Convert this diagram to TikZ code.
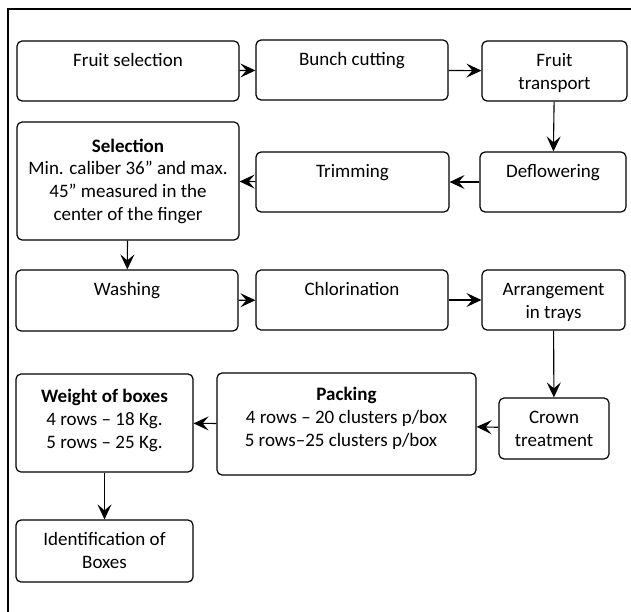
\documentclass[tikz,border=0pt]{standalone}
\usepackage{fontspec}
\setmainfont{Carlito}
\usetikzlibrary{arrows.meta}
\tikzset{
  box/.style={draw, rounded corners=5pt, line width=1.2pt, inner sep=0pt},
  txt/.style={anchor=north, inner sep=0pt, align=center, font=\fontsize{19}{22.8}\selectfont},
  conn/.style={line width=1.1pt, -{Stealth[length=15pt,width=14pt,inset=6pt]}},
  frame/.style={line width=2pt}
}
\begin{document}
\begin{tikzpicture}[x=1pt,y=-1pt]
\useasboundingbox (0,0) rectangle (631,612);
% outer frame (left and top)
\coordinate (fbl) at (8,612);
\coordinate (ftl) at (8,9);
\coordinate (ftr) at (631,9);
\draw[frame] (fbl) -- (ftl) -- (ftr);
% boxes
\node[box, minimum width=222, minimum height=60] (fs) at (128,71) {};
\node[box, minimum width=192, minimum height=60] (bc) at (352,70) {};
\node[box, minimum width=145, minimum height=60] (ft) at (554.5,71) {};
\node[box, minimum width=146, minimum height=60] (df) at (553,182) {};
\node[box, minimum width=193, minimum height=60] (tr) at (352.5,182) {};
\node[box, minimum width=222, minimum height=118] (sel) at (128,181) {};
\node[box, minimum width=222, minimum height=61] (wa) at (127,300.5) {};
\node[box, minimum width=192, minimum height=60] (ch) at (352,300) {};
\node[box, minimum width=143, minimum height=60] (ar) at (553.5,300) {};
\node[box, minimum width=110, minimum height=61] (cr) at (554,428.5) {};
\node[box, minimum width=259, minimum height=102] (pk) at (346.5,424) {};
\node[box, minimum width=177, minimum height=98] (wb) at (104.5,423) {};
\node[box, minimum width=177, minimum height=62] (id) at (104.5,551) {};
% texts
\node[txt] (fst) at ([yshift=-10pt]fs.north) {\strut Fruit selection};
\node[txt] (bct) at ([yshift=-10pt]bc.north) {\strut Bunch cutting};
\node[txt] (ftt) at ([yshift=-10pt]ft.north) {\strut Fruit\\transport};
\node[txt] (dft) at ([yshift=-10pt]df.north) {\strut Deflowering};
\node[txt] (trt) at ([yshift=-10pt]tr.north) {\strut Trimming};
\node[txt] (selt) at ([yshift=-14.5pt]sel.north) {\strut\textbf{Selection}\\Min. caliber 36” and max.\\45” measured in the\\center of the finger};
\node[txt] (wat) at ([yshift=-10pt]wa.north) {\strut Washing};
\node[txt] (cht) at ([yshift=-10pt]ch.north) {\strut Chlorination};
\node[txt] (art) at ([yshift=-10pt]ar.north) {\strut Arrangement\\in trays};
\node[txt] (crt) at ([yshift=-10pt]cr.north) {\strut Crown\\treatment};
\node[txt] (pkt) at ([yshift=-12pt]pk.north) {\strut\textbf{Packing}\\4 rows – 20 clusters p/box\\5 rows–25 clusters p/box\hspace*{11pt}};
\node[txt] (wbt) at ([yshift=-13pt]wb.north) {\strut\textbf{Weight of boxes}\\4 rows – 18 Kg.\\5 rows – 25 Kg.};
\node[txt] (idt) at ([yshift=-10pt]id.north) {\strut Identification of\\Boxes};
% connectors
\draw[conn] (fs) -- (bc);
\draw[conn] (bc) -- (ft);
\draw[conn] (ft) -- (df);
\draw[conn] (df) -- (tr);
\draw[conn] (tr) -- (sel);
\draw[conn] (sel) -- (wa);
\draw[conn] (wa) -- (ch);
\draw[conn] (ch) -- (ar);
\draw[conn] (ar) -- (cr);
\draw[conn] (cr) -- (pk);
\draw[conn] (pk) -- (wb);
\draw[conn] (wb) -- (id);
\end{tikzpicture}
\end{document}
